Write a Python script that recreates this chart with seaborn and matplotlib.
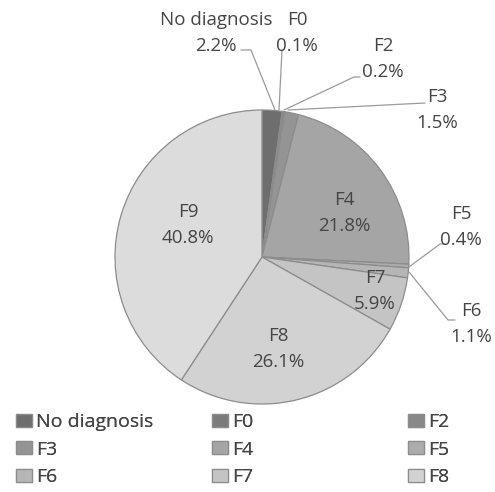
import numpy as np
import matplotlib
matplotlib.use("Agg")
import matplotlib.pyplot as plt
import seaborn as sns

# Share of cases by diagnostic group (%)
categories = ["No diagnosis", "F0", "F2", "F3", "F4", "F5", "F6", "F7", "F8", "F9"]
shares = [2.2, 0.1, 0.2, 1.5, 21.8, 0.4, 1.1, 5.9, 26.1, 40.8]
slice_colors = ["#6e6e6e", "#7b7b7b", "#888888", "#949494", "#a5a5a5",
                "#acacac", "#b5b5b5", "#c4c4c4", "#d2d2d2", "#dcdcdc"]

sns.set_theme(style="white")
plt.rcParams["font.family"] = ["Open Sans", "DejaVu Sans"]
TXT = "#454545"

W, H = 495, 492
fig = plt.figure(figsize=(W / 100, H / 100), dpi=100)
cx, cy, R = 262, 257, 147
ax = fig.add_axes([(cx - R) / W, (H - cy - R) / H, 2 * R / W, 2 * R / H])

wedges, _ = ax.pie(shares, colors=slice_colors, startangle=90, counterclock=False,
                   radius=1, wedgeprops=dict(edgecolor="#8c8c8c", linewidth=0.9))
ax.set_xlim(-1, 1)
ax.set_ylim(-1, 1)
ax.set_aspect("equal")
ax.axis("off")


def px(x, y):
    """Pixel position -> data coordinates of the pie axes."""
    return (x - cx) / R, (cy - y) / R


def pct(v):
    return f"{v:.1f}%"


fs = 13.5
ls = 1.6
# labels inside the large slices
inside = {"F4": (344, 213), "F7": (375, 291), "F8": (278, 349), "F9": (188, 225)}
for name, (x, y) in inside.items():
    i = categories.index(name)
    tx, ty = px(x, y)
    ax.text(tx, ty, f"{name}\n{pct(shares[i])}", ha="center", va="center",
            fontsize=fs, color=TXT, linespacing=ls)

# outside labels with leader lines: text centre, line points (pixels)
outside = {
    "No diagnosis": ((216, 33), [(241, 50), (251, 50), (275, 110)]),
    "F0": ((297, 33), [(282, 50), (279, 110)]),
    "F2": ((383, 59), [(360, 77), (354, 77), (284, 110)]),
    "F3": ((437, 110), [(425, 103), (288, 110)]),
    "F5": ((461, 227), [(445, 244), (440, 244), (409, 267)]),
    "F6": ((471, 324), [(455, 320), (448, 320), (409, 272)]),
}
for name, ((x, y), pts) in outside.items():
    i = categories.index(name)
    tx, ty = px(x, y)
    ax.text(tx, ty, f"{name}\n{pct(shares[i])}", ha="center", va="center",
            fontsize=fs, color=TXT, linespacing=ls, clip_on=False)
    xs, ys = zip(*[px(a, b) for a, b in pts])
    ax.plot(xs, ys, color="#9a9a9a", lw=0.9, clip_on=False)

# legend laid out in three columns, filled row by row
col_x = [16, 212, 408]
for c in range(3):
    idx = [c, c + 3, c + 6]
    leg = fig.legend([wedges[i] for i in idx], [categories[i] for i in idx],
                     loc="upper left", bbox_to_anchor=(col_x[c] / W, 1 - 413 / H),
                     frameon=False, fontsize=14, handlelength=0.8, handleheight=0.65,
                     handletextpad=0.25, labelspacing=0.5, borderaxespad=0,
                     borderpad=0, labelcolor=TXT)
    fig.add_artist(leg)

fig.savefig("out.png", dpi=100)
